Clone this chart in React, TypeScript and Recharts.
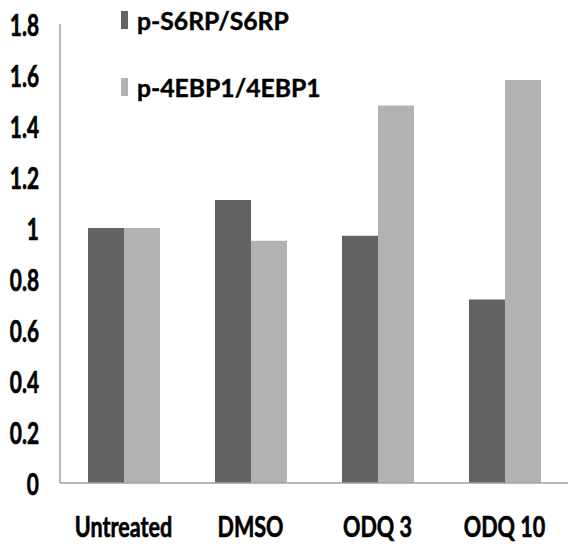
import React from 'react';
import { BarChart, Bar, XAxis, YAxis } from 'recharts';

const categories = ['Untreated', 'DMSO', 'ODQ 3', 'ODQ 10'];
const s6rpValues = [1.0, 1.11, 0.97, 0.72];
const ebp1Values = [1.0, 0.95, 1.48, 1.58];
const yTicks = [0, 0.2, 0.4, 0.6, 0.8, 1, 1.2, 1.4, 1.6, 1.8];
const seriesNames = ['p-S6RP/S6RP', 'p-4EBP1/4EBP1'];
const seriesColors = ['#636363', '#b2b2b2'];

const data = categories.map((c, i) => ({ name: c, s6rp: s6rpValues[i], ebp1: ebp1Values[i] }));

const FONT = "Lato, 'Open Sans', sans-serif";

const YTick = (props: any) => {
  const { x, y, payload } = props;
  return (
    <g transform={`translate(${x - 21},${y}) scale(0.95,1.37)`}>
      <text x={0} y={0} textAnchor="end" dominantBaseline="central" fontFamily={FONT} fontWeight="bold" fontSize={22} fill="#000" stroke="#000" strokeWidth={0.5}>
        {String(payload.value)}
      </text>
    </g>
  );
};

const XTick = (props: any) => {
  const { x, y, payload } = props;
  return (
    <g transform={`translate(${x},${y + 43}) scale(0.98,1.31)`}>
      <text x={0} y={0} textAnchor="middle" dominantBaseline="central" fontFamily={FONT} fontWeight="bold" fontSize={22} fill="#000" stroke="#000" strokeWidth={0.5}>
        {payload.value}
      </text>
    </g>
  );
};

const LegendOverlay = () => (
  <svg width={300} height={100} style={{ position: 'absolute', left: 115, top: 0, overflow: 'visible' }}>
    {seriesNames.map((n, i) => (
      <g key={n} transform={`translate(0,${i * 67})`}>
        <rect x={6} y={11} width={7} height={18} fill={seriesColors[i]} />
        <g transform="translate(22,20) scale(1.03,1.04)">
          <text x={0} y={0} dominantBaseline="central" fontFamily={FONT} fontWeight="bold" fontSize={24} fill="#000" stroke="#000" strokeWidth={0.4}>
            {n}
          </text>
        </g>
      </g>
    ))}
  </svg>
);

export default function App() {
  return (
    <div style={{ position: 'absolute', left: 0, top: 0, width: 573, height: 550, background: '#fff' }}>
      <BarChart width={573} height={550} data={data} margin={{ top: 24, right: 5, bottom: 0, left: 0 }} barGap={0} barSize={36}>
        <XAxis dataKey="name" height={67} tickLine={false} tickSize={0} tickMargin={0} axisLine={{ stroke: '#a0a0a0', strokeWidth: 1.5 }} tick={<XTick />} interval={0} />
        <YAxis width={60} domain={[0, 1.8]} ticks={yTicks} tickLine={false} tickSize={0} tickMargin={0} axisLine={{ stroke: '#a0a0a0', strokeWidth: 1.5 }} tick={<YTick />} interval={0} />
        <Bar dataKey="s6rp" name={seriesNames[0]} fill={seriesColors[0]} isAnimationActive={false} />
        <Bar dataKey="ebp1" name={seriesNames[1]} fill={seriesColors[1]} isAnimationActive={false} />
      </BarChart>
      <LegendOverlay />
    </div>
  );
}
